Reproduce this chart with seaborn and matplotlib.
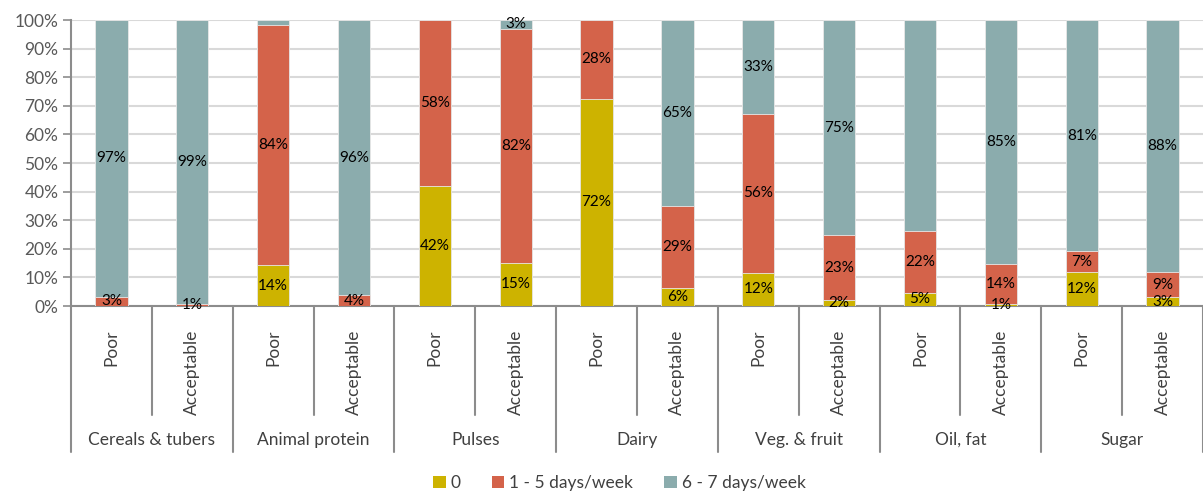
import numpy as np
import pandas as pd
import matplotlib.pyplot as plt
import seaborn as sns
from matplotlib.patches import Patch
from matplotlib.transforms import blended_transform_factory

# data (share of households, %)
groups = ["Cereals & tubers", "Animal protein", "Pulses", "Dairy",
          "Veg. & fruit", "Oil, fat", "Sugar"]
levels = ["Poor", "Acceptable"]
never = [0, 0, 14.3, 0, 42.0, 15.2, 72.4, 6.2, 11.6, 2.1, 4.7, 0.7, 11.9, 3.0]
some = [3.2, 0.8, 83.9, 3.8, 58.0, 81.8, 27.6, 28.7, 55.6, 22.7, 21.6, 14.0, 7.3, 8.8]
daily = [96.8, 99.2, 1.8, 96.2, 0, 3.0, 0, 65.1, 32.8, 75.2, 73.7, 85.3, 80.8, 88.2]
daily_labelled = [1, 1, 0, 1, 0, 1, 0, 1, 1, 1, 0, 1, 1, 1]
series_names = ["0", "1 - 5 days/week", "6 - 7 days/week"]
colors = ["#CDB300", "#D4634A", "#8BACAD"]

keys = [f"{g}|{l}" for g in groups for l in levels]
df = pd.DataFrame({"key": keys, "never": never, "some": some, "daily": daily})
df["c0"] = df["never"]
df["c1"] = df["never"] + df["some"]
df["c2"] = df["c1"] + df["daily"]

sns.set_theme(style="white")
plt.rcParams["font.family"] = ["Lato", "DejaVu Sans"]

fig = plt.figure(figsize=(12.03, 4.93), dpi=100)
ax = fig.add_axes([0.059, 0.3793, 0.941, 0.5801])

# stacked bars: draw cumulative totals, top layer first
for col, c in zip(["c2", "c1", "c0"], colors[::-1]):
    sns.barplot(data=df, x="key", y=col, order=keys, color=c, width=0.4,
                edgecolor="#e8e8e8", linewidth=0.6, saturation=1, ax=ax, zorder=3)

# segment labels
for i, row in df.iterrows():
    segs = [(row["never"], 0, True),
            (row["some"], row["c0"], True),
            (row["daily"], row["c1"], bool(daily_labelled[i]))]
    for v, base, show in segs:
        if v > 0 and show:
            ax.text(i, base + v / 2, f"{round(v)}%", ha="center", va="center",
                    fontsize=11, color="black", zorder=5)

ax.set_xlim(-0.5, len(keys) - 0.5)
ax.set_ylim(0, 100)
ax.set_yticks(np.arange(0, 101, 10))
ax.set_yticklabels([f"{v}%" for v in range(0, 101, 10)], fontsize=12.5,
                   color="#595959")
ax.yaxis.grid(True, color="#d9d9d9", linewidth=1.5, zorder=0)
ax.set_axisbelow(True)
ax.tick_params(axis="y", length=6, width=1.2, color="#8c8c8c", pad=3, left=True)
ax.set_xlabel("")
ax.set_ylabel("")

ax.set_xticks(range(len(keys)))
ax.set_xticklabels([k.split("|")[1] for k in keys], rotation=90, fontsize=12.5,
                   color="#404040")
ax.tick_params(axis="x", length=0, pad=17)

for s in ["top", "right"]:
    ax.spines[s].set_visible(False)
for s in ["left", "bottom"]:
    ax.spines[s].set_color("#8c8c8c")
    ax.spines[s].set_linewidth(1.5)

# hierarchical category axis
tr = blended_transform_factory(ax.transData, ax.transAxes)
for i in range(len(keys) + 1):
    x = i - 0.5
    bottom = -0.51 if i % 2 == 0 else -0.38
    ax.plot([x, x], [0, bottom], transform=tr, color="#8c8c8c", lw=1.5,
            clip_on=False)
for j, g in enumerate(groups):
    ax.text(2 * j + 0.5, -0.468, g, transform=tr, ha="center", va="center",
            fontsize=12.5, color="#404040")

handles = [Patch(facecolor=c, edgecolor="none") for c in colors]
fig.legend(handles, series_names, loc="center", bbox_to_anchor=(0.515, 0.02),
           ncol=3, frameon=False, fontsize=12.5, handlelength=0.7,
           handleheight=0.7, handletextpad=0.3, columnspacing=1.8,
           labelcolor="#404040")

fig.savefig("out.png", dpi=100)
